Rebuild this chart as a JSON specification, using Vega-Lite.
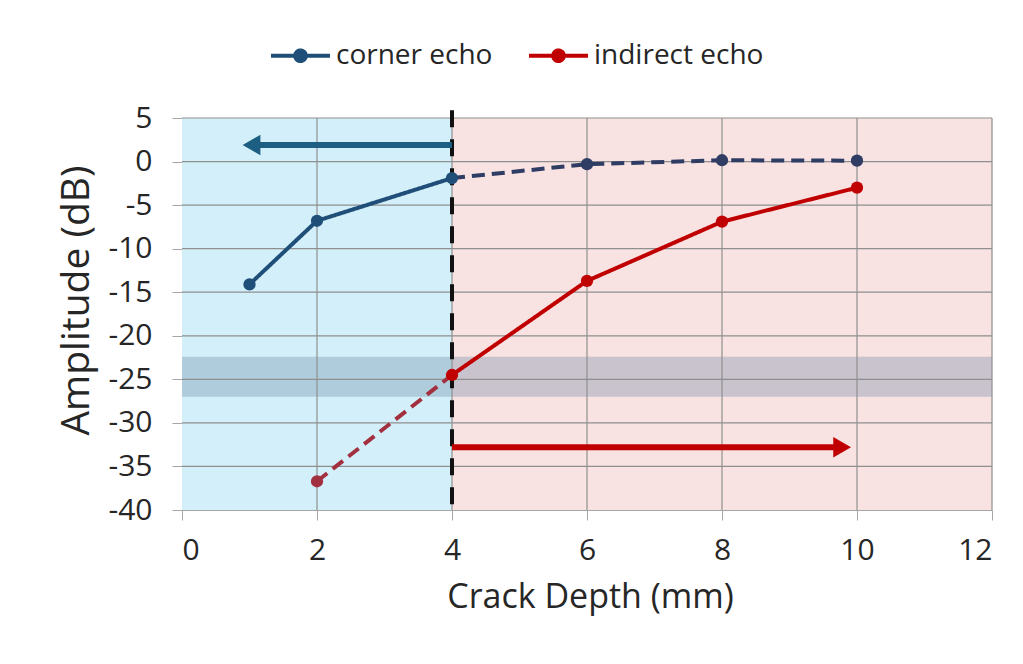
{
  "$schema": "https://vega.github.io/schema/vega-lite/v6.json",
  "width": 810,
  "height": 392,
  "autosize": {"type": "none"},
  "padding": {"left": 182, "top": 118, "right": 31, "bottom": 154},
  "background": "white",
  "config": {
    "view": {"stroke": null},
    "font": "Open Sans",
    "axis": {
      "labelFont": "Open Sans",
      "titleFont": "Open Sans",
      "labelColor": "#262626",
      "titleColor": "#262626",
      "titleFontWeight": "normal",
      "domainColor": "#a6a6a6",
      "tickColor": "#a6a6a6",
      "tickSize": 10,
      "grid": false,
      "zindex": 1
    }
  },
  "datasets": {
    "zones": [
      {"zone": "shallow", "from": 0, "to": 4},
      {"zone": "deep", "from": 4, "to": 12}
    ],
    "band": [{"from": 0, "to": 12, "lo": -27.0, "hi": -22.4}],
    "gridx": [{"v": 2}, {"v": 4}, {"v": 6}, {"v": 8}, {"v": 10}, {"v": 12}],
    "gridy": [{"v": -35}, {"v": -30}, {"v": -25}, {"v": -20}, {"v": -15}, {"v": -10}, {"v": -5}, {"v": 0}, {"v": 5}],
    "lines": [
      {"line": "corner echo", "depth": 1, "amp": -14.1},
      {"line": "corner echo", "depth": 2, "amp": -6.8},
      {"line": "corner echo", "depth": 4, "amp": -1.9},
      {"line": "corner echo (extrapolated)", "depth": 4, "amp": -1.9},
      {"line": "corner echo (extrapolated)", "depth": 6, "amp": -0.3},
      {"line": "corner echo (extrapolated)", "depth": 8, "amp": 0.15},
      {"line": "corner echo (extrapolated)", "depth": 10, "amp": 0.1},
      {"line": "indirect echo (extrapolated)", "depth": 2, "amp": -36.7},
      {"line": "indirect echo (extrapolated)", "depth": 4, "amp": -24.5},
      {"line": "indirect echo", "depth": 4, "amp": -24.5},
      {"line": "indirect echo", "depth": 6, "amp": -13.7},
      {"line": "indirect echo", "depth": 8, "amp": -6.9},
      {"line": "indirect echo", "depth": 10, "amp": -3.0}
    ],
    "points": [
      {"line": "corner echo", "depth": 1, "amp": -14.1},
      {"line": "corner echo", "depth": 2, "amp": -6.8},
      {"line": "corner echo", "depth": 4, "amp": -1.9},
      {"line": "corner echo (extrapolated)", "depth": 6, "amp": -0.3},
      {"line": "corner echo (extrapolated)", "depth": 8, "amp": 0.15},
      {"line": "corner echo (extrapolated)", "depth": 10, "amp": 0.1},
      {"line": "indirect echo (extrapolated)", "depth": 2, "amp": -36.7},
      {"line": "indirect echo", "depth": 4, "amp": -24.5},
      {"line": "indirect echo", "depth": 6, "amp": -13.7},
      {"line": "indirect echo", "depth": 8, "amp": -6.9},
      {"line": "indirect echo", "depth": 10, "amp": -3.0}
    ],
    "threshold": [{"depth": 4, "top": 5.9, "bottom": -40}],
    "arrows": [
      {"dir": "left", "from": 4, "to": 1.03, "amp": 1.9},
      {"dir": "right", "from": 4, "to": 9.78, "amp": -32.8}
    ]
  },
  "layer": [
    {
      "data": {"name": "zones"},
      "mark": {"type": "rect"},
      "encoding": {
        "x": {"field": "from", "type": "quantitative", "scale": {"domain": [0, 12], "nice": false, "zero": false},
          "axis": {"values": [0, 2, 4, 6, 8, 10, 12], "format": "d", "title": "Crack Depth (mm)", "labelFontSize": 30, "labelPadding": 15, "titleFontSize": 34, "titleX": 408, "titleY": 87, "titleBaseline": "middle", "titleAnchor": null}},
        "x2": {"field": "to"},
        "fill": {"field": "zone", "type": "nominal", "scale": {"domain": ["shallow", "deep"], "range": ["#d3eff9", "#f8e2e2"]}, "legend": null}
      }
    },
    {
      "data": {"name": "band"},
      "mark": {"type": "rect", "fill": "#5b7c99", "opacity": 0.3},
      "encoding": {
        "x": {"field": "from", "type": "quantitative"},
        "x2": {"field": "to"},
        "y": {"field": "lo", "type": "quantitative", "scale": {"domain": [-40, 5], "nice": false, "zero": false},
          "axis": {"values": [-40, -35, -30, -25, -20, -15, -10, -5, 0, 5], "labelExpr": "replace(datum.label, '\u2212', '-')", "title": "Amplitude (dB)", "labelFontSize": 30, "labelPadding": 20, "titleFontSize": 39, "titleX": -106, "titleY": 182, "titleBaseline": "middle", "titleAnchor": null}},
        "y2": {"field": "hi"}
      }
    },
    {
      "data": {"name": "gridx"},
      "mark": {"type": "rule", "stroke": "#8f8f8f", "strokeWidth": 1.2},
      "encoding": {"x": {"field": "v", "type": "quantitative"}}
    },
    {
      "data": {"name": "gridy"},
      "mark": {"type": "rule", "stroke": "#8f8f8f", "strokeWidth": 1.2},
      "encoding": {"y": {"field": "v", "type": "quantitative"}}
    },
    {
      "data": {"name": "threshold"},
      "mark": {"type": "rule", "stroke": "#111111", "strokeWidth": 4, "strokeDash": [17, 12]},
      "encoding": {
        "x": {"field": "depth", "type": "quantitative"},
        "y": {"field": "top", "type": "quantitative"},
        "y2": {"field": "bottom"}
      }
    },
    {
      "data": {"name": "arrows"},
      "transform": [{"filter": "datum.dir === 'left'"}],
      "mark": {"type": "rule", "strokeWidth": 6, "stroke": "#1d5f82"},
      "encoding": {
        "x": {"field": "from", "type": "quantitative"},
        "x2": {"field": "to"},
        "y": {"field": "amp", "type": "quantitative"}
      }
    },
    {
      "data": {"name": "arrows"},
      "transform": [{"filter": "datum.dir === 'left'"}],
      "mark": {"type": "point", "filled": true, "size": 420, "opacity": 1, "shape": "triangle-left", "fill": "#1d5f82", "stroke": null},
      "encoding": {
        "x": {"field": "to", "type": "quantitative"},
        "y": {"field": "amp", "type": "quantitative"}
      }
    },
    {
      "data": {"name": "arrows"},
      "transform": [{"filter": "datum.dir === 'right'"}],
      "mark": {"type": "rule", "strokeWidth": 6, "stroke": "#c00000"},
      "encoding": {
        "x": {"field": "from", "type": "quantitative"},
        "x2": {"field": "to"},
        "y": {"field": "amp", "type": "quantitative"}
      }
    },
    {
      "data": {"name": "arrows"},
      "transform": [{"filter": "datum.dir === 'right'"}],
      "mark": {"type": "point", "filled": true, "size": 420, "opacity": 1, "shape": "triangle-right", "fill": "#c00000", "stroke": null},
      "encoding": {
        "x": {"field": "to", "type": "quantitative"},
        "y": {"field": "amp", "type": "quantitative"}
      }
    },
    {
      "data": {"name": "lines"},
      "mark": {"type": "line", "strokeWidth": 4},
      "encoding": {
        "x": {"field": "depth", "type": "quantitative"},
        "y": {"field": "amp", "type": "quantitative"},
        "detail": {"field": "line"},
        "strokeDash": {"field": "line", "type": "nominal", "scale": {"domain": ["corner echo", "indirect echo", "corner echo (extrapolated)", "indirect echo (extrapolated)"], "range": [[1, 0], [1, 0], [13, 7], [13, 7]]}, "legend": null},
        "color": {"field": "line", "type": "nominal",
          "scale": {"domain": ["corner echo", "indirect echo", "corner echo (extrapolated)", "indirect echo (extrapolated)"], "range": ["#1f4e79", "#c00000", "#2f3c63", "#a3303f"]},
          "legend": {
            "orient": "none", "legendX": 87, "legendY": -94, "direction": "horizontal", "title": null,
            "values": ["corner echo", "indirect echo"],
            "symbolType": "M-1,0H1M-0.18,0A0.18,0.18,0,1,0,0.18,0A0.18,0.18,0,1,0,-0.18,0Z",
            "symbolSize": 3481, "symbolStrokeWidth": 4,
            "labelFont": "Open Sans", "labelFontSize": 28, "labelColor": "#262626", "labelLimit": 400,
            "labelOffset": 4, "columnPadding": 28, "padding": 0,
            "encode": {"symbols": {"update": {"fill": {"scale": "color", "field": "value"}, "stroke": {"scale": "color", "field": "value"}, "opacity": {"value": 1}}}}
          }
        }
      }
    },
    {
      "data": {"name": "points"},
      "mark": {"type": "point", "filled": true, "size": 150, "opacity": 1},
      "encoding": {
        "x": {"field": "depth", "type": "quantitative"},
        "y": {"field": "amp", "type": "quantitative"},
        "color": {"field": "line", "type": "nominal"}
      }
    }
  ]
}
